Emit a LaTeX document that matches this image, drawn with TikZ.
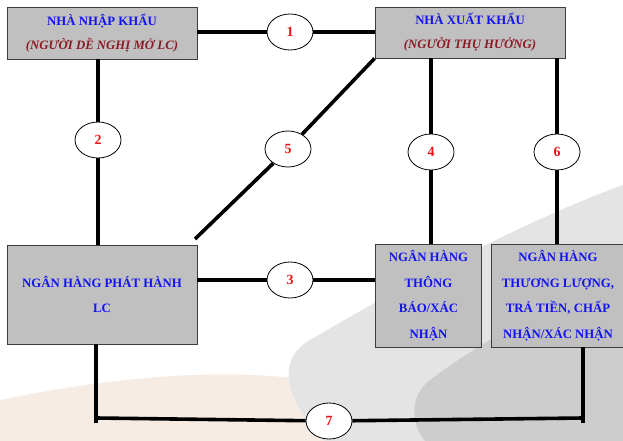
\documentclass[tikz,border=0pt]{standalone}
\usepackage{fontspec}
\setmainfont{Liberation Serif}
\usetikzlibrary{shapes.geometric}
\definecolor{boxfill}{RGB}{192,192,192}
\definecolor{boxline}{RGB}{60,60,60}
\definecolor{titleblue}{RGB}{20,20,240}
\definecolor{subred}{RGB}{140,25,35}
\definecolor{numred}{RGB}{235,20,20}
\definecolor{fabric}{RGB}{228,228,228}
\definecolor{fabricdark}{RGB}{205,205,205}
\definecolor{peach}{RGB}{246,236,228}
\begin{document}
\begin{tikzpicture}[x=1pt,y=-1pt,
  party/.style={draw=boxline, line width=0.9pt, fill=boxfill, align=center, inner sep=0pt,
    font=\fontsize{12.8}{24}\selectfont\bfseries, text=titleblue},
  bankbox/.style={party, font=\fontsize{12.8}{25.5}\selectfont\bfseries},
  num/.style={ellipse, draw=black, line width=0.8pt, fill=white, minimum width=46pt, minimum height=36pt,
    inner sep=0pt, font=\fontsize{14}{16}\selectfont\bfseries, text=numred},
  link/.style={line width=3.6pt, draw=black}]
\useasboundingbox (0,0) rectangle (623,441);
% faint background photo
\fill[peach] (0,400) .. controls (120,375) and (250,365) .. (330,385) -- (330,441) -- (0,441) -- cycle;
\fill[fabric] (623,185) .. controls (540,215) and (420,275) .. (310,340)
  .. controls (275,360) and (285,400) .. (325,441) -- (623,441) -- cycle;
\fill[fabricdark] (623,270) .. controls (560,300) and (490,335) .. (430,380)
  .. controls (405,400) and (415,430) .. (425,441) -- (623,441) -- cycle;
% boxes
\node[party, minimum width=190pt, minimum height=52pt] (imp) at (102,33)
  {NHÀ NHẬP KHẨU\\{\itshape\color{subred}(NGƯỜI DỀ NGHỊ MỞ LC)}};
\node[party, minimum width=190pt, minimum height=51pt] (exp) at (470,32.5)
  {NHÀ XUẤT KHẨU\\{\itshape\color{subred}(NGƯỜI THỤ HƯỞNG)}};
\node[bankbox, minimum width=190pt, minimum height=99pt] (iss) at (102,294.5)
  {NGÂN HÀNG PHÁT HÀNH\\LC};
\node[bankbox, minimum width=106pt, minimum height=103pt] (adv) at (428.5,295.5)
  {NGÂN HÀNG\\THÔNG\\BÁO/XÁC\\NHẬN};
\node[bankbox, minimum width=134pt, minimum height=103pt] (neg) at (558,295.5)
  {NGÂN HÀNG\\THƯƠNG LƯỢNG,\\TRẢ TIỀN, CHẤP\\NHẬN/XÁC NHẬN};
% number ellipses
\node[num] (e1) at (290,32) {1};
\node[num] (e2) at (98,140) {2};
\node[num] (e5) at (288,149) {5};
\node[num] (e4) at (431,152) {4};
\node[num] (e6) at (557,152) {6};
\node[num] (e3) at (290,280) {3};
\node[num] (e7) at (329,421) {7};
\coordinate (c5) at (195,239);
\coordinate (c7a) at (96,418);
\coordinate (c7b) at (583,418);
\coordinate (c7aend) at (96,423);
\coordinate (c7bend) at (583,423);
% connectors
\draw[link] (e1) -- (imp.east|-e1);
\draw[link] (e1) -- (exp.west|-e1);
\draw[link] (e2) -- (imp.south-|e2);
\draw[link] (e2) -- (iss.north-|e2);
\draw[link] (e5) -- (exp.south west);
\draw[link] (e5) -- (c5);
\draw[link] (e4) -- (exp.south-|e4);
\draw[link] (e4) -- (adv.north-|e4);
\draw[link] (e6) -- (exp.south-|e6);
\draw[link] (e6) -- (neg.north-|e6);
\draw[link] (e3) -- (iss.east|-e3);
\draw[link] (e3) -- (adv.west|-e3);
\draw[link] (iss.south-|c7a) -- (c7aend);
\draw[link] (neg.south-|c7b) -- (c7bend);
\draw[link] (c7a) -- (e7);
\draw[link] (e7) -- (c7b);
\end{tikzpicture}
\end{document}
